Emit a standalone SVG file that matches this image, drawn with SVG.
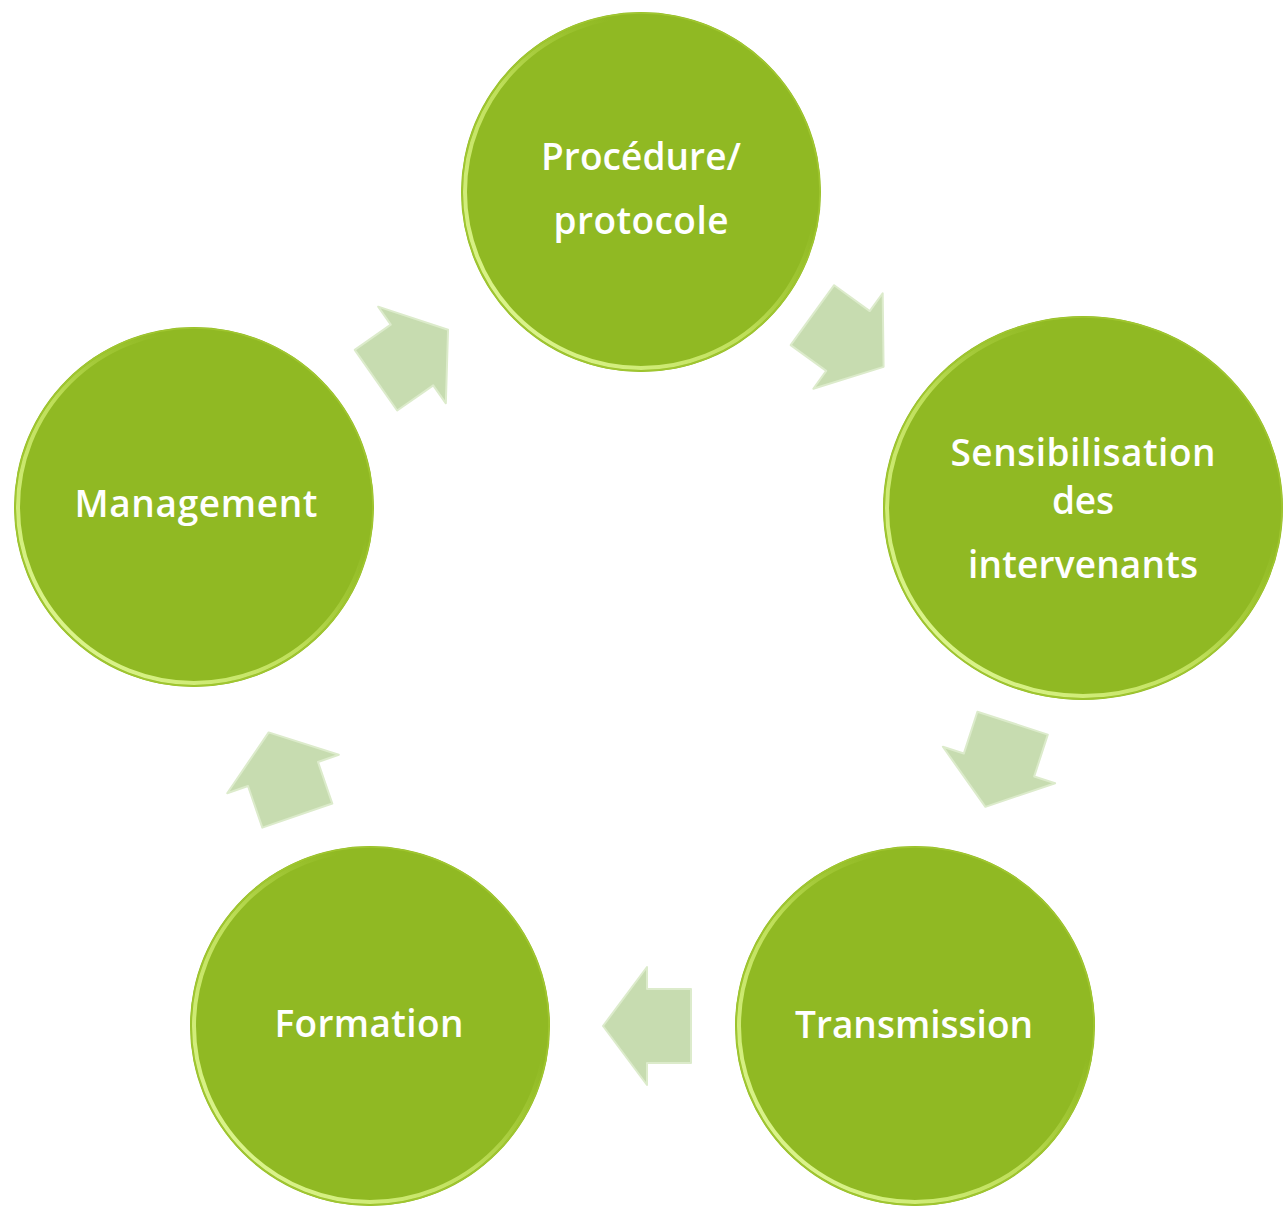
<svg xmlns="http://www.w3.org/2000/svg" width="1286" height="1208" viewBox="0 0 1286 1208">
<style>
.node{fill:#90b923}
.rim{fill:none;stroke:url(#rimg);stroke-width:4}
.edge{fill:none;stroke:#a0c630;stroke-width:1.5}
.lbl{font-family:"Open Sans","Noto Sans","Liberation Sans",sans-serif;font-weight:600;font-size:37px;fill:#ffffff;text-anchor:middle}
.arrow{fill:#c7dcb0;stroke:#dcebcb;stroke-width:2;stroke-linejoin:round}
</style>
<defs>
<linearGradient id="rimg" x1="0" y1="1" x2="1" y2="0">
<stop offset="0" stop-color="#eaffa8" stop-opacity="1"/>
<stop offset="0.45" stop-color="#d2ef70" stop-opacity="0.7"/>
<stop offset="0.7" stop-color="#b8dc4a" stop-opacity="0"/>
<stop offset="1" stop-color="#b8dc4a" stop-opacity="0"/>
</linearGradient>
<path id="arr" d="M-44,-37 L0,-37 L0,-59 L44,0 L0,59 L0,37 L-44,37 Z"/>
</defs>
<rect width="1286" height="1208" fill="#ffffff"/>
<g id="connectors">
<use href="#arr" class="arrow" transform="translate(848,341) rotate(36)"/>
<use href="#arr" class="arrow" transform="translate(999,765) rotate(108)"/>
<use href="#arr" class="arrow" transform="translate(647,1026) rotate(180)"/>
<use href="#arr" class="arrow" transform="translate(283,774) rotate(251)"/>
<use href="#arr" class="arrow" transform="translate(412,355) rotate(-35)"/>
</g>
<g id="node-procedure">
<circle class="node" cx="641" cy="192" r="180"/>
<circle class="edge" cx="641" cy="192" r="179"/>
<circle class="rim" cx="641" cy="192" r="176"/>
<text class="lbl" x="641" y="170" textLength="200">Procédure/</text>
<text class="lbl" x="641" y="234" textLength="175">protocole</text>
</g>
<g id="node-sensibilisation">
<ellipse class="node" cx="1083" cy="508" rx="200" ry="192"/>
<ellipse class="edge" cx="1083" cy="508" rx="199" ry="191"/>
<ellipse class="rim" cx="1083" cy="508" rx="196" ry="188"/>
<text class="lbl" x="1083" y="466" textLength="265">Sensibilisation</text>
<text class="lbl" x="1083" y="514" textLength="62">des</text>
<text class="lbl" x="1083" y="578" textLength="230">intervenants</text>
</g>
<g id="node-transmission">
<circle class="node" cx="915" cy="1026" r="180"/>
<circle class="edge" cx="915" cy="1026" r="179"/>
<circle class="rim" cx="915" cy="1026" r="176"/>
<text class="lbl" x="914" y="1038" textLength="238">Transmission</text>
</g>
<g id="node-formation">
<circle class="node" cx="370" cy="1026" r="180"/>
<circle class="edge" cx="370" cy="1026" r="179"/>
<circle class="rim" cx="370" cy="1026" r="176"/>
<text class="lbl" x="369" y="1037" textLength="189">Formation</text>
</g>
<g id="node-management">
<circle class="node" cx="194" cy="507" r="180"/>
<circle class="edge" cx="194" cy="507" r="179"/>
<circle class="rim" cx="194" cy="507" r="176"/>
<text class="lbl" x="196" y="517" textLength="243">Management</text>
</g>
</svg>
